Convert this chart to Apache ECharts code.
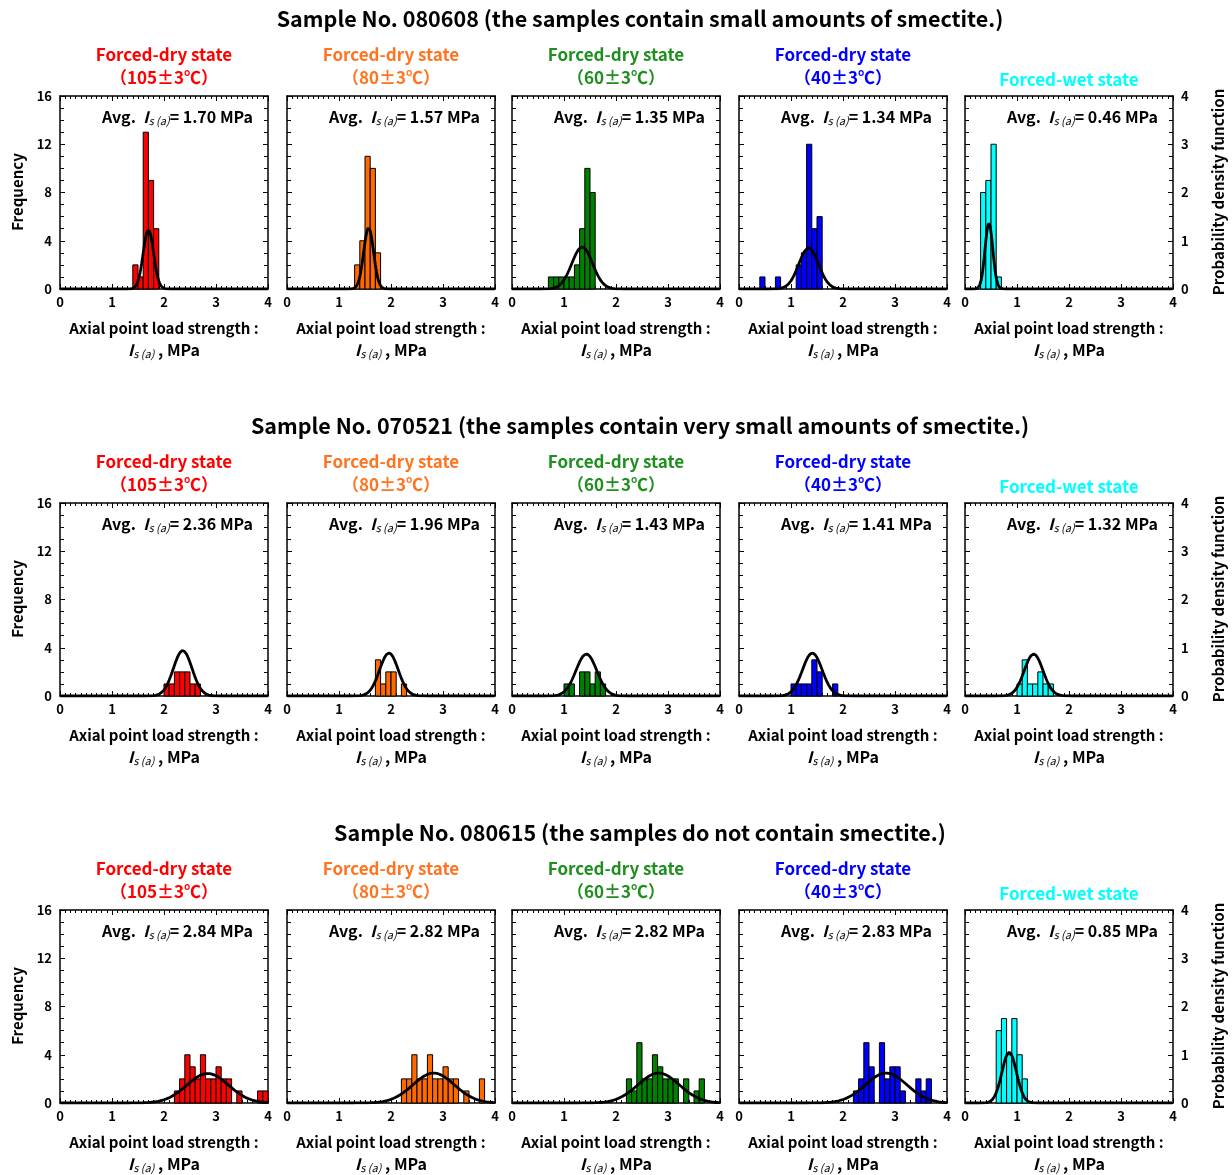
<!DOCTYPE html>
<html>
<head>
<meta charset="utf-8">
<script src="https://cdn.jsdelivr.net/npm/echarts@6/dist/echarts.min.js"></script>
<style>
  html, body { margin: 0; padding: 0; background: #fff; }
  #chart { width: 1232px; height: 1175px; }
</style>
</head>
<body>
<div id="chart"></div>
<script>
const FONT = '"Noto Sans CJK JP", "Noto Sans", sans-serif';

const rowTitles = [
  'Sample No. 080608 (the samples contain small amounts of smectite.)',
  'Sample No. 070521 (the samples contain very small amounts of smectite.)',
  'Sample No. 080615 (the samples do not contain smectite.)',
];
const stateNames = ['Forced-dry state', 'Forced-dry state', 'Forced-dry state', 'Forced-dry state', 'Forced-wet state'];
const stateTemps = ['（105±3℃）', '（80±3℃）', '（60±3℃）', '（40±3℃）', ''];
const titleColors = ['#ff0000', '#ff7420', '#1f8f1f', '#0000ff', '#00ffff'];
const barColors = ['#ff0000', '#ff6a00', '#008000', '#0000ff', '#00ffff'];
const xTicks = [0, 1, 2, 3, 4];
const freqTicks = [0, 4, 8, 12, 16];
const pdfTicks = [0, 1, 2, 3, 4];
const binWidth = 0.1;

// Sample No. 080608
const avg080608 = [1.70, 1.57, 1.35, 1.34, 0.46];
const binStart080608 = [1.4, 1.3, 0.7, 0.4, 0.3];
const counts080608 = [
  [2, 1, 13, 9, 5],
  [2, 4, 11, 10, 3],
  [1, 1, 1, 1, 1, 2, 5, 10, 8],
  [1, 0, 0, 1, 0, 0, 0, 2, 3, 12, 5, 6],
  [8, 9, 12, 1],
];
const sd080608 = [0.10, 0.095, 0.20, 0.19, 0.075];
const pdfPeak080608 = [1.23, 1.27, 0.87, 0.85, 1.36];

// Sample No. 070521
const avg070521 = [2.36, 1.96, 1.43, 1.41, 1.32];
const binStart070521 = [2.0, 1.7, 1.0, 1.0, 1.0];
const counts070521 = [
  [1, 1, 2, 2, 2, 1, 1],
  [3, 1, 2, 2, 0, 1],
  [1, 1, 0, 2, 2, 1, 2, 1],
  [1, 1, 1, 1, 3, 2, 0, 0, 1],
  [1, 3, 1, 1, 2, 1, 1],
];
const sd070521 = [0.18, 0.18, 0.20, 0.19, 0.18];
const pdfPeak070521 = [0.94, 0.89, 0.87, 0.89, 0.87];

// Sample No. 080615
const avg080615 = [2.84, 2.82, 2.82, 2.83, 0.85];
const binStart080615 = [2.2, 2.2, 2.2, 2.2, 0.6];
const counts080615 = [
  [1, 2, 4, 3, 2, 4, 2, 2, 3, 2, 2, 0, 1, 0, 0, 0, 1, 1],
  [2, 2, 4, 2, 2, 4, 2, 2, 3, 2, 2, 0, 1, 0, 0, 2],
  [2, 1, 5, 2, 2, 4, 3, 2, 2, 2, 0, 2, 0, 1, 2],
  [1, 2, 5, 3, 0, 5, 2, 3, 3, 1, 0, 0, 2, 1, 2],
  [6, 7, 4, 7, 4, 2],
];
const sd080615 = [0.40, 0.40, 0.40, 0.40, 0.14];
const pdfPeak080615 = [0.61, 0.62, 0.62, 0.62, 1.05];

const rows = [
  { avg: avg080608, start: binStart080608, counts: counts080608, sd: sd080608, peak: pdfPeak080608 },
  { avg: avg070521, start: binStart070521, counts: counts070521, sd: sd070521, peak: pdfPeak070521 },
  { avg: avg080615, start: binStart080615, counts: counts080615, sd: sd080615, peak: pdfPeak080615 },
];

// layout
const plotLeft = [60, 287, 512, 739, 965];
const plotW = 208;
const rowTop = [96, 503, 910];
const plotH = 193;

const chart = echarts.init(document.getElementById('chart'), null, { renderer: 'canvas' });

const grids = [], xAxes = [], yAxes = [], series = [], graphics = [];
const axisLine = { show: true, onZero: false, lineStyle: { color: '#000', width: 1.5 } };
const labelStyle = { fontFamily: FONT, fontWeight: 'bold', fontSize: 13, color: '#000' };
const subRich = {
  b: { fontFamily: FONT, fontWeight: 'bold', fontSize: 16, fill: '#000' },
  i: { fontFamily: FONT, fontWeight: 'bold', fontStyle: 'italic', fontSize: 16, fill: '#000' },
  s: { fontFamily: FONT, fontStyle: 'italic', fontSize: 11, fill: '#000', verticalAlign: 'bottom', padding: [7, 0, 0, 0] },
};

function renderBar(color) {
  return function (params, api) {
    const p0 = api.coord([api.value(0), api.value(2)]);
    const p1 = api.coord([api.value(1), 0]);
    return {
      type: 'rect',
      shape: { x: p0[0], y: p0[1], width: p1[0] - p0[0], height: p1[1] - p0[1] },
      style: { fill: color, stroke: '#000', lineWidth: 1 },
    };
  };
}

rows.forEach((row, r) => {
  graphics.push({
    type: 'text', x: 640, y: rowTop[r] - 77,
    style: { text: rowTitles[r], fontFamily: FONT, fontWeight: 'bold', fontSize: 21.5, fill: '#000', align: 'center', verticalAlign: 'middle' },
  });
  graphics.push({
    type: 'text', x: 17, y: rowTop[r] + 96, rotation: Math.PI / 2,
    style: { text: 'Frequency', fontFamily: FONT, fontWeight: 'bold', fontSize: 15, fill: '#000', align: 'center', verticalAlign: 'middle' },
  });
  graphics.push({
    type: 'text', x: 1218, y: rowTop[r] + 96, rotation: Math.PI / 2,
    style: { text: 'Probability density function', fontFamily: FONT, fontWeight: 'bold', fontSize: 15, fill: '#000', align: 'center', verticalAlign: 'middle' },
  });

  for (let p = 0; p < 5; p++) {
    const idx = r * 5 + p;
    const cx = plotLeft[p] + 104;
    grids.push({ left: plotLeft[p], top: rowTop[r], width: plotW, height: plotH });

    const xBase = {
      type: 'value', gridIndex: idx, min: 0, max: 4, interval: 1,
      axisLine, splitLine: { show: false },
      axisTick: { show: true, inside: true, length: 5, lineStyle: { color: '#000' } },
      minorTick: { show: true, splitNumber: 10, length: 3, lineStyle: { color: '#000' } },
    };
    xAxes.push(Object.assign({}, xBase, {
      position: 'bottom',
      axisLabel: Object.assign({ margin: 7, customValues: xTicks }, labelStyle),
    }));
    xAxes.push(Object.assign({}, xBase, { position: 'top', axisLabel: { show: false } }));

    const yBase = {
      type: 'value', gridIndex: idx, min: 0,
      axisLine, splitLine: { show: false },
      axisTick: { show: true, inside: true, length: 5, lineStyle: { color: '#000' } },
      minorTick: { show: true, splitNumber: 4, length: 4, lineStyle: { color: '#000' } },
    };
    yAxes.push(Object.assign({}, yBase, {
      position: 'left', max: 16, interval: 4,
      axisLabel: Object.assign({ show: p === 0, margin: 8, customValues: freqTicks }, labelStyle),
    }));
    yAxes.push(Object.assign({}, yBase, {
      position: 'right', max: 4, interval: 1,
      axisLabel: Object.assign({ show: p === 4, margin: 8, customValues: pdfTicks }, labelStyle),
    }));

    const bars = [];
    row.counts[p].forEach((c, k) => {
      if (c > 0) {
        const x0 = Math.round((row.start[p] + k * binWidth) * 100) / 100;
        bars.push([x0, Math.round((x0 + binWidth) * 100) / 100, c]);
      }
    });
    series.push({
      type: 'custom', xAxisIndex: idx * 2, yAxisIndex: idx * 2,
      renderItem: renderBar(barColors[p]), encode: { x: [0, 1], y: 2 },
      data: bars, z: 2, silent: true,
    });

    // fitted normal curve, drawn against the pdf axis
    const mu = row.avg[p], sd = row.sd[p], pk = row.peak[p];
    const curve = [];
    for (let i = 0; i <= 400; i++) {
      const x = i / 100;
      curve.push([x, pk * Math.exp(-0.5 * ((x - mu) / sd) ** 2)]);
    }
    series.push({
      type: 'line', xAxisIndex: idx * 2, yAxisIndex: idx * 2 + 1,
      data: curve, showSymbol: false, smooth: false, z: 3, silent: true,
      lineStyle: { color: '#000', width: 2.8 },
    });

    // panel titles
    if (stateTemps[p]) {
      graphics.push({
        type: 'text', x: cx, y: rowTop[r] - 41,
        style: { text: stateNames[p], fontFamily: FONT, fontWeight: 'bold', fontSize: 17, fill: titleColors[p], align: 'center', verticalAlign: 'middle' },
      });
      graphics.push({
        type: 'text', x: cx, y: rowTop[r] - 18,
        style: { text: stateTemps[p], fontFamily: FONT, fontWeight: 'bold', fontSize: 17, fill: titleColors[p], align: 'center', verticalAlign: 'middle' },
      });
    } else {
      graphics.push({
        type: 'text', x: cx, y: rowTop[r] - 16,
        style: { text: stateNames[p], fontFamily: FONT, fontWeight: 'bold', fontSize: 17, fill: titleColors[p], align: 'center', verticalAlign: 'middle' },
      });
    }

    // average label
    graphics.push({
      type: 'text', x: plotLeft[p] + 193, y: rowTop[r] + 21, z: 10,
      style: {
        text: '{b|Avg.  }{i|I}{s|s (a)}{b|= ' + mu.toFixed(2) + ' MPa}',
        align: 'right', verticalAlign: 'middle', rich: subRich,
      },
    });

    // x axis name
    graphics.push({
      type: 'text', x: cx, y: rowTop[r] + 232,
      style: { text: 'Axial point load strength :', fontFamily: FONT, fontWeight: 'bold', fontSize: 15, fill: '#000', align: 'center', verticalAlign: 'middle' },
    });
    graphics.push({
      type: 'text', x: cx, y: rowTop[r] + 254,
      style: { text: '{i|I}{s|s (a)}{b| , MPa}', align: 'center', verticalAlign: 'middle', rich: subRich },
    });
  }
});

chart.setOption({
  animation: false,
  backgroundColor: '#fff',
  grid: grids,
  xAxis: xAxes,
  yAxis: yAxes,
  series,
  graphic: graphics,
});
</script>
</body>
</html>
